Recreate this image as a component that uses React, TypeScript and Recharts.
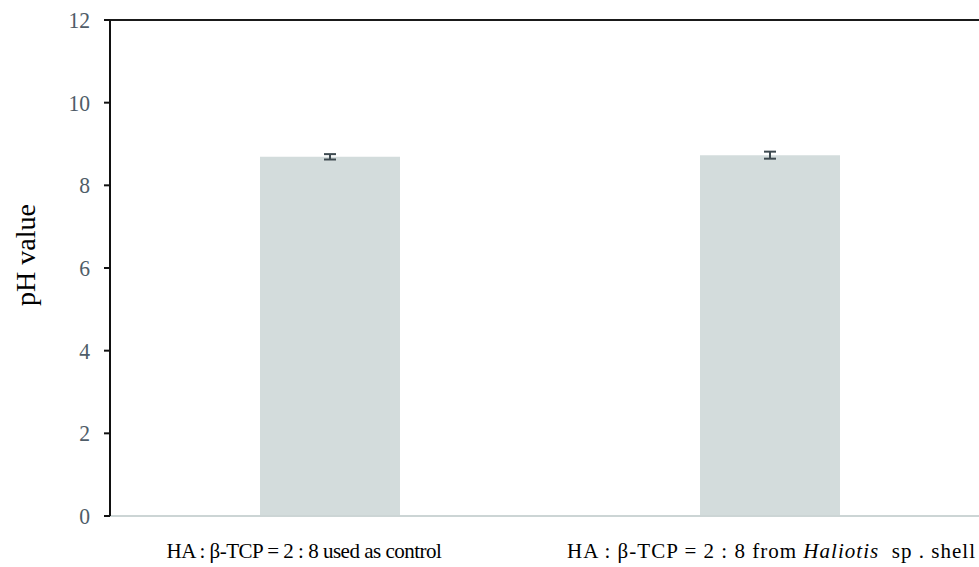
import React from "react";
import {
  BarChart,
  Bar,
  XAxis,
  YAxis,
  ErrorBar,
  ReferenceLine,
} from "recharts";

const groups = ["control", "haliotis"];
const phValues = [8.69, 8.73];
const phErrors = [0.065, 0.085];
const yTicks = [0, 2, 4, 6, 8, 10, 12];

const data = groups.map((g, i) => ({ group: g, ph: phValues[i], err: phErrors[i] }));

const SERIF = "'Liberation Serif', 'Times New Roman', serif";
const NB = "\u00a0";
const RATIO = "HA : β-TCP = 2 : 8";

function GroupTick(props: any) {
  const { x, y, payload } = props;
  const common = {
    y: y + 34,
    textAnchor: "middle" as const,
    fontFamily: SERIF,
    fontSize: 21,
    fill: "#000",
  };
  if (payload.value === "control") {
    return (
      <text x={x - 26} letterSpacing={-0.5} {...common}>
        {RATIO} used as control
      </text>
    );
  }
  // the second label is set looser, with wide gaps around the species name
  return (
    <text x={x + 1} textLength={408} lengthAdjust="spacing" {...common}>
      {RATIO}
      {NB}from{NB}
      <tspan fontStyle="italic">Haliotis</tspan>
      {NB}
      {NB}sp{NB}.{NB}shell
    </text>
  );
}

function ValueTick(props: any) {
  const { x, y, payload } = props;
  return (
    <text
      transform={`translate(${x}, ${y}) scale(0.9, 1)`}
      textAnchor="end"
      dominantBaseline="central"
      fontFamily={SERIF}
      fontSize={24}
      fill="#4f5d68"
    >
      {payload.value}
    </text>
  );
}

function YTitle(props: any) {
  const { viewBox } = props;
  const cy = viewBox.y + viewBox.height / 2 - 13;
  return (
    <text
      x={25}
      y={cy}
      transform={`rotate(-90, 25, ${cy})`}
      textAnchor="middle"
      dominantBaseline="central"
      fontFamily={SERIF}
      fontSize={28}
      fill="#000"
    >
      pH value
    </text>
  );
}

export default function App() {
  return (
    <div style={{ position: "absolute", left: 0, top: 0, width: 979, height: 567, overflow: "hidden", background: "#fff" }}>
      <BarChart
        width={990}
        height={567}
        data={data}
        margin={{ top: 20, right: 0, left: 0, bottom: 0 }}
        barCategoryGap={0}
      >
        <XAxis
          dataKey="group"
          height={51}
          tickLine={false}
          axisLine={{ stroke: "#ccd5d5", strokeWidth: 2 }}
          tick={<GroupTick />}
          interval={0}
        />
        <YAxis
          width={110}
          domain={[0, 12]}
          ticks={yTicks}
          interval={0}
          tickSize={6}
          tickMargin={14}
          axisLine={{ stroke: "#111", strokeWidth: 2 }}
          tickLine={{ stroke: "#111", strokeWidth: 2 }}
          tick={<ValueTick />}
          label={<YTitle />}
        />
        <ReferenceLine y={12} stroke="#1a1a1a" strokeWidth={2} />
        <Bar dataKey="ph" fill="#d3dcdc" barSize={140} isAnimationActive={false}>
          <ErrorBar dataKey="err" width={6} stroke="#3e4a50" strokeWidth={2} direction="y" />
        </Bar>
      </BarChart>
    </div>
  );
}
